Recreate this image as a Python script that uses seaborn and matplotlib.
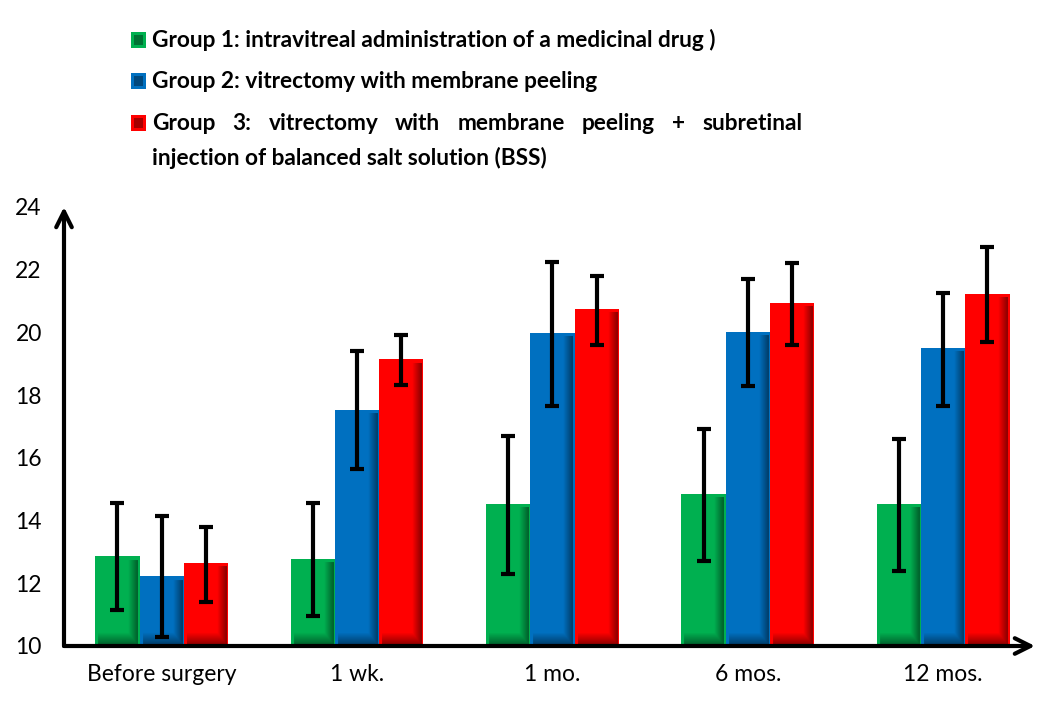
import numpy as np
import pandas as pd
import matplotlib
matplotlib.use("Agg")
import matplotlib.pyplot as plt
import seaborn as sns
from matplotlib.patches import Rectangle

# ---------------- data ----------------
periods = ["Before surgery", "1 wk.", "1 mo.", "6 mos.", "12 mos."]
group_names = ["Group 1", "Group 2", "Group 3"]
legend_labels = [
    "Group 1: intravitreal administration of a medicinal drug )",
    "Group 2: vitrectomy with membrane peeling",
    "Group 3: vitrectomy with membrane peeling + subretinal",
]
legend_label3_line2 = "injection of balanced salt solution (BSS)"

g1_mean = [12.87, 12.78, 14.54, 14.86, 14.54]
g1_low = [11.15, 10.95, 12.30, 12.72, 12.40]
g1_high = [14.57, 14.57, 16.71, 16.93, 16.61]

g2_mean = [12.23, 17.54, 19.99, 20.02, 19.51]
g2_low = [10.30, 15.63, 17.66, 18.30, 17.66]
g2_high = [14.13, 19.41, 22.25, 21.70, 21.26]

g3_mean = [12.66, 19.15, 20.76, 20.94, 21.23]
g3_low = [11.41, 18.33, 19.60, 19.60, 19.70]
g3_high = [13.81, 19.92, 21.80, 22.22, 22.73]

colors = ["#00B050", "#0070C0", "#FF0000"]
yticks = [10, 12, 14, 16, 18, 20, 22, 24]

# ---------------- build table ----------------
means = [g1_mean, g2_mean, g3_mean]
lows = [g1_low, g2_low, g3_low]
highs = [g1_high, g2_high, g3_high]
rows = []
for gi, g in enumerate(group_names):
    for pi, p in enumerate(periods):
        rows.append({"period": p, "group": g, "value": means[gi][pi]})
df = pd.DataFrame(rows)

sns.set_theme(style="white")
plt.rcParams["font.family"] = ["Lato", "DejaVu Sans"]

W, H = 1048, 701
fig = plt.figure(figsize=(W / 100, H / 100), dpi=100)
ax = fig.add_axes([64 / W, 1 - 646 / H, (1035 - 64) / W, (646 - 207) / H])

sns.barplot(data=df, x="period", y="value", hue="group", order=periods,
            hue_order=group_names, palette=colors, width=0.68,
            errorbar=None, saturation=1, ax=ax, legend=False,
            linewidth=0)

ax.set_xlim(-0.5, 4.47)
ax.set_ylim(10, 24)

bar_containers = list(ax.containers)

# shading overlay + error bars
px_per_unit = (646 - 207) / 14.0
for gi, cont in enumerate(bar_containers):
    for pi, bar in enumerate(cont.patches):
        x0 = bar.get_x()
        w = bar.get_width()
        top = bar.get_height()
        hpx = max(int((top - 10) * px_per_unit), 2)
        wpx = 44
        yy, xx = np.mgrid[0:hpx, 0:wpx]
        rfac = np.clip((xx - (wpx - 12)) / 9.0, 0, 1)
        rfac = np.where((yy < 4) | (xx > wpx - 3), 0, rfac)
        bfac = np.clip((yy - (hpx - 14)) / 12.0, 0, 1)
        bfac = np.where((xx < 3) | (xx > wpx - 3), 0, bfac)
        a = np.maximum(rfac, bfac) * 0.45
        img = np.zeros((hpx, wpx, 4))
        img[..., 3] = a
        im = ax.imshow(img, extent=(x0, x0 + w, 10, top), origin="upper",
                       aspect="auto", zorder=bar.get_zorder() + 0.1,
                       interpolation="bilinear")
        im.set_clip_path(bar)
        xc = x0 + w / 2
        m = means[gi][pi]
        ax.errorbar(xc, m,
                    yerr=[[m - lows[gi][pi]], [highs[gi][pi] - m]],
                    fmt="none", ecolor="black", elinewidth=3.0,
                    capsize=4.8, capthick=3.0, zorder=5)

ax.set_xlim(-0.5, 4.47)
ax.set_ylim(10, 24)

# axes with arrows
for s in ax.spines.values():
    s.set_visible(False)
ax.annotate("", xy=(1.0, 0), xytext=(0, 0), xycoords="axes fraction",
            textcoords="axes fraction",
            arrowprops=dict(arrowstyle="->", lw=3, color="black",
                            mutation_scale=28, shrinkA=0, shrinkB=0),
            annotation_clip=False, zorder=10)
ax.annotate("", xy=(0, 1.0), xytext=(0, 0), xycoords="axes fraction",
            textcoords="axes fraction",
            arrowprops=dict(arrowstyle="->", lw=3, color="black",
                            mutation_scale=28, shrinkA=0, shrinkB=0),
            annotation_clip=False, zorder=10)

ax.set_yticks(yticks)
ax.set_yticklabels([str(t) for t in yticks])
ax.tick_params(axis="y", length=0, pad=16, labelsize=16.5, labelcolor="black")
ax.tick_params(axis="x", length=0, pad=13, labelsize=16.5, labelcolor="black")
ax.set_xlabel("")
ax.set_ylabel("")
ax.grid(False)

# ---------------- manual legend ----------------
leg_fs = 16.3
row_y = [40, 81, 123]
for i, lab in enumerate(legend_labels):
    yc = 1 - row_y[i] / H
    fig.patches.append(Rectangle((131 / W, yc - 8 / H), 15 / W, 16 / H,
                                 transform=fig.transFigure, facecolor=colors[i],
                                 edgecolor="none"))
    fig.patches.append(Rectangle((134 / W, yc - 5 / H), 9 / W, 10 / H,
                                 transform=fig.transFigure, facecolor="black",
                                 alpha=0.35, edgecolor="none"))
    if i < 2:
        fig.text(152 / W, yc, lab, fontsize=leg_fs, fontweight="bold",
                 va="center", ha="left", color="black")

# justified first line of group 3
fig.canvas.draw()
renderer = fig.canvas.get_renderer()
words = legend_labels[2].split(" ")
texts = []
widths = []
for wd in words:
    t = fig.text(0, 1 - row_y[2] / H, wd, fontsize=leg_fs, fontweight="bold",
                 va="center", ha="left", color="black")
    bb = t.get_window_extent(renderer)
    texts.append(t)
    widths.append(bb.width)
x_start, x_end = 152, 802
gap = (x_end - x_start - sum(widths)) / (len(words) - 1)
x = x_start
for t, wdt in zip(texts, widths):
    t.set_x(x / W)
    x += wdt + gap
fig.text(152 / W, 1 - 158 / H, legend_label3_line2, fontsize=leg_fs,
         fontweight="bold", va="center", ha="left", color="black")

fig.savefig("out.png", dpi=100)
